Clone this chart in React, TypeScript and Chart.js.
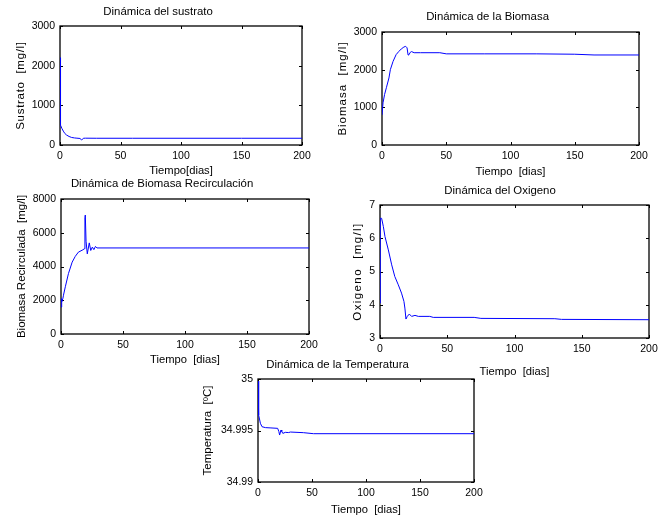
import React, { useEffect, useRef } from "react";
import { Chart, registerables } from "chart.js";

Chart.register(...registerables);

const W = 665;
const H = 519;

// ---------- data ----------
const xTicks = [0, 50, 100, 150, 200];

const sustratoT = [0, 0.1, 0.4, 0.8, 1.5, 2.75, 4, 5.5, 7.5, 9.6, 12, 14, 16.5, 17.9, 19.3, 21, 30, 60, 100, 150, 200];
const sustratoY = [2200, 1050, 700, 500, 420, 350, 290, 250, 215, 190, 178, 172, 165, 125, 170, 172, 170, 170, 170, 170, 170];
const sustratoTicks = [0, 1000, 2000, 3000];

const biomasaT = [0, 0.8, 2, 3.4, 5.4, 6.5, 8.6, 11, 13, 15, 17, 18.4, 19.5, 20.3, 21, 22, 23, 25, 30, 45, 50, 80, 120, 150, 165, 200];
const biomasaY = [800, 1120, 1340, 1520, 1780, 2000, 2220, 2400, 2480, 2550, 2600, 2620, 2580, 2390, 2400, 2460, 2480, 2450, 2450, 2450, 2420, 2420, 2420, 2410, 2390, 2390];
const biomasaTicks = [0, 1000, 2000, 3000];

const recircT = [0, 0.3, 0.8, 1.5, 2, 3.5, 6, 9, 11.5, 14, 17.7, 18.8, 19.3, 19.6, 20.2, 21.2, 22.8, 24, 25.3, 26.5, 27.8, 29, 50, 100, 150, 200];
const recircY = [1600, 2100, 1900, 2100, 2300, 2800, 3580, 4260, 4600, 4850, 4990, 5050, 6900, 7050, 5500, 4750, 5400, 4950, 5150, 5000, 5190, 5100, 5100, 5100, 5100, 5100];
const recircTicks = [0, 2000, 4000, 6000, 8000];

const oxigenoT = [0, 0.2, 1.2, 2.5, 3.7, 6.2, 8.7, 11, 13.6, 16, 17.8, 18.5, 19.3, 20.3, 21.8, 23.5, 26, 28.5, 37, 39.6, 70, 75, 130, 135, 200];
const oxigenoY = [4.05, 6.6, 6.6, 6.35, 6.05, 5.65, 5.2, 4.85, 4.6, 4.35, 4.1, 3.9, 3.57, 3.65, 3.72, 3.65, 3.68, 3.65, 3.65, 3.62, 3.62, 3.59, 3.58, 3.56, 3.55];
const oxigenoTicks = [3, 4, 5, 6, 7];

const tempT = [0, 0.3, 0.9, 2.2, 3.7, 6.8, 12, 18.2, 19.3, 20, 21.3, 22, 23, 25.3, 28.4, 30, 42, 51.5, 100, 150, 200];
const tempY = [34.9998, 34.9978, 34.9965, 34.9957, 34.99537, 34.99528, 34.99525, 34.99521, 34.9949, 34.99456, 34.99505, 34.9949, 34.99472, 34.99482, 34.9948, 34.99485, 34.99479, 34.99469, 34.99469, 34.99469, 34.99469];
const tempTicks = [34.99, 34.995, 35];

// ---------- styling / layout ----------
const FONT = "'Liberation Sans', Arial, Helvetica, sans-serif";
const TITLE_SIZE = 11.4;
const TICK_SIZE = 10.5;
const XLAB_SIZE = 11.2;
const YLAB_SIZE = 11.5;
const lh = (s: number) => s * 1.2;

type Box = { l: number; t: number; r: number; b: number };
type Panel = {
  title: string;
  yLabel: string;
  xLabel: string;
  t: number[];
  y: number[];
  yTicks: number[];
  box: Box;
  titleY: number;
  yLabelX: number;
  xLabelY: number;
  ls: number;
};

const panels: Panel[] = [
  {
    title: "Dinámica del sustrato",
    yLabel: "Sustrato  [mg/l]",
    xLabel: "Tiempo[dias]",
    t: sustratoT,
    y: sustratoY,
    yTicks: sustratoTicks,
    box: { l: 60, t: 26, r: 302, b: 145 },
    titleY: 12,
    yLabelX: 21,
    xLabelY: 171,
    ls: 0.7,
  },
  {
    title: "Dinámica de la Biomasa",
    yLabel: "Biomasa  [mg/l]",
    xLabel: "Tiempo  [dias]",
    t: biomasaT,
    y: biomasaY,
    yTicks: biomasaTicks,
    box: { l: 382, t: 32, r: 639, b: 145 },
    titleY: 17,
    yLabelX: 343,
    xLabelY: 172,
    ls: 1.0,
  },
  {
    title: "Dinámica de Biomasa Recirculación",
    yLabel: "Biomasa Recirculada  [mg/l]",
    xLabel: "Tiempo  [dias]",
    t: recircT,
    y: recircY,
    yTicks: recircTicks,
    box: { l: 61, t: 199, r: 309, b: 334 },
    titleY: 184,
    yLabelX: 22,
    xLabelY: 360,
    ls: 0,
  },
  {
    title: "Dinámica del Oxigeno",
    yLabel: "Oxigeno  [mg/l]",
    xLabel: "Tiempo  [dias]",
    t: oxigenoT,
    y: oxigenoY,
    yTicks: oxigenoTicks,
    box: { l: 380, t: 205, r: 649, b: 338 },
    titleY: 191,
    yLabelX: 358,
    xLabelY: 372,
    ls: 1.4,
  },
  {
    title: "Dinámica de la Temperatura",
    yLabel: "Temperatura  [ºC]",
    xLabel: "Tiempo  [dias]",
    t: tempT,
    y: tempY,
    yTicks: tempTicks,
    box: { l: 258, t: 379, r: 474, b: 482 },
    titleY: 365,
    yLabelX: 208,
    xLabelY: 510,
    ls: 0,
  },
];

const framePlugin = {
  id: "matlabFrame",
  beforeDatasetsDraw(chart: any) {
    const { ctx, chartArea: a, scales } = chart;
    const x = scales.x;
    const y = scales.y;
    ctx.save();
    ctx.strokeStyle = "#000";
    ctx.lineWidth = 1.3;
    ctx.strokeRect(a.left, a.top, a.right - a.left, a.bottom - a.top);
    ctx.lineWidth = 1;
    ctx.beginPath();
    x.ticks.forEach((tk: any) => {
      const px = Math.round(x.getPixelForValue(tk.value)) + 0.5;
      ctx.moveTo(px, a.bottom);
      ctx.lineTo(px, a.bottom - 3);
      ctx.moveTo(px, a.top);
      ctx.lineTo(px, a.top + 3);
    });
    y.ticks.forEach((tk: any) => {
      const py = Math.round(y.getPixelForValue(tk.value)) + 0.5;
      ctx.moveTo(a.left, py);
      ctx.lineTo(a.left + 3, py);
      ctx.moveTo(a.right, py);
      ctx.lineTo(a.right - 3, py);
    });
    ctx.stroke();
    ctx.restore();
  },
};

function makeConfig(p: Panel): any {
  const yW = p.box.l - p.yLabelX + lh(YLAB_SIZE) / 2;
  const xH = p.xLabelY - p.box.b + lh(XLAB_SIZE) / 2;
  const titleTop = p.titleY - lh(TITLE_SIZE) / 2;
  const titlePadBottom = p.box.t - (p.titleY + lh(TITLE_SIZE) / 2);
  return {
    type: "line",
    data: {
      datasets: [
        {
          data: p.t.map((tv, i) => ({ x: tv, y: p.y[i] })),
          borderColor: "#0000ff",
          borderWidth: 1,
          pointRadius: 0,
          tension: 0,
          fill: false,
        },
      ],
    },
    options: {
      responsive: false,
      animation: false,
      devicePixelRatio: 1,
      events: [],
      layout: {
        padding: {
          left: p.box.l - yW,
          right: W - p.box.r,
          top: titleTop,
          bottom: H - p.box.b - xH,
        },
      },
      plugins: {
        legend: { display: false },
        tooltip: { enabled: false },
        title: {
          display: true,
          text: p.title,
          color: "#000",
          font: { family: FONT, size: TITLE_SIZE, weight: "normal", lineHeight: 1.2 },
          padding: { top: 0, bottom: titlePadBottom },
        },
      },
      scales: {
        x: {
          type: "linear",
          min: 0,
          max: 200,
          afterBuildTicks: (s: any) => {
            s.ticks = xTicks.map((v) => ({ value: v }));
          },
          ticks: {
            autoSkip: false,
            maxRotation: 0,
            color: "#000",
            padding: 5,
            font: { family: FONT, size: TICK_SIZE },
            callback: (v: any) => String(v),
          },
          grid: { display: false, drawTicks: false },
          border: { display: false },
          title: {
            display: true,
            text: p.xLabel,
            color: "#000",
            padding: 0,
            font: { family: FONT, size: XLAB_SIZE, lineHeight: 1.2 },
          },
          afterFit: (s: any) => {
            s.height = xH;
            s.paddingLeft = 0;
            s.paddingRight = 0;
          },
        },
        y: {
          type: "linear",
          min: p.yTicks[0],
          max: p.yTicks[p.yTicks.length - 1],
          afterBuildTicks: (s: any) => {
            s.ticks = p.yTicks.map((v) => ({ value: v }));
          },
          ticks: {
            autoSkip: false,
            color: "#000",
            padding: 5,
            font: { family: FONT, size: TICK_SIZE },
            callback: (v: any) => String(v),
          },
          grid: { display: false, drawTicks: false },
          border: { display: false },
          title: {
            display: true,
            text: p.yLabel,
            color: "#000",
            padding: 0,
            font: { family: FONT, size: YLAB_SIZE, lineHeight: 1.2 },
          },
          afterFit: (s: any) => {
            s.width = yW;
            s.paddingTop = 0;
            s.paddingBottom = 0;
            if (!s.__lsWrapped) {
              const orig = s.drawTitle.bind(s);
              s.drawTitle = function () {
                const c = s.ctx;
                c.save();
                try {
                  (c as any).letterSpacing = p.ls + "px";
                } catch (e) {}
                orig();
                c.restore();
              };
              s.__lsWrapped = true;
            }
          },
        },
      },
    },
    plugins: [framePlugin],
  };
}

function PanelChart({ panel }: { panel: Panel }) {
  const ref = useRef<HTMLCanvasElement | null>(null);
  useEffect(() => {
    if (!ref.current) return;
    const chart = new Chart(ref.current, makeConfig(panel));
    return () => chart.destroy();
  }, [panel]);
  return (
    <canvas
      ref={ref}
      width={W}
      height={H}
      style={{ position: "absolute", left: 0, top: 0, width: W, height: H }}
    />
  );
}

export default function App() {
  return (
    <div
      style={{
        position: "absolute",
        left: 0,
        top: 0,
        width: W,
        height: H,
        background: "#fff",
        overflow: "hidden",
      }}
    >
      {panels.map((p, i) => (
        <PanelChart key={i} panel={p} />
      ))}
    </div>
  );
}
